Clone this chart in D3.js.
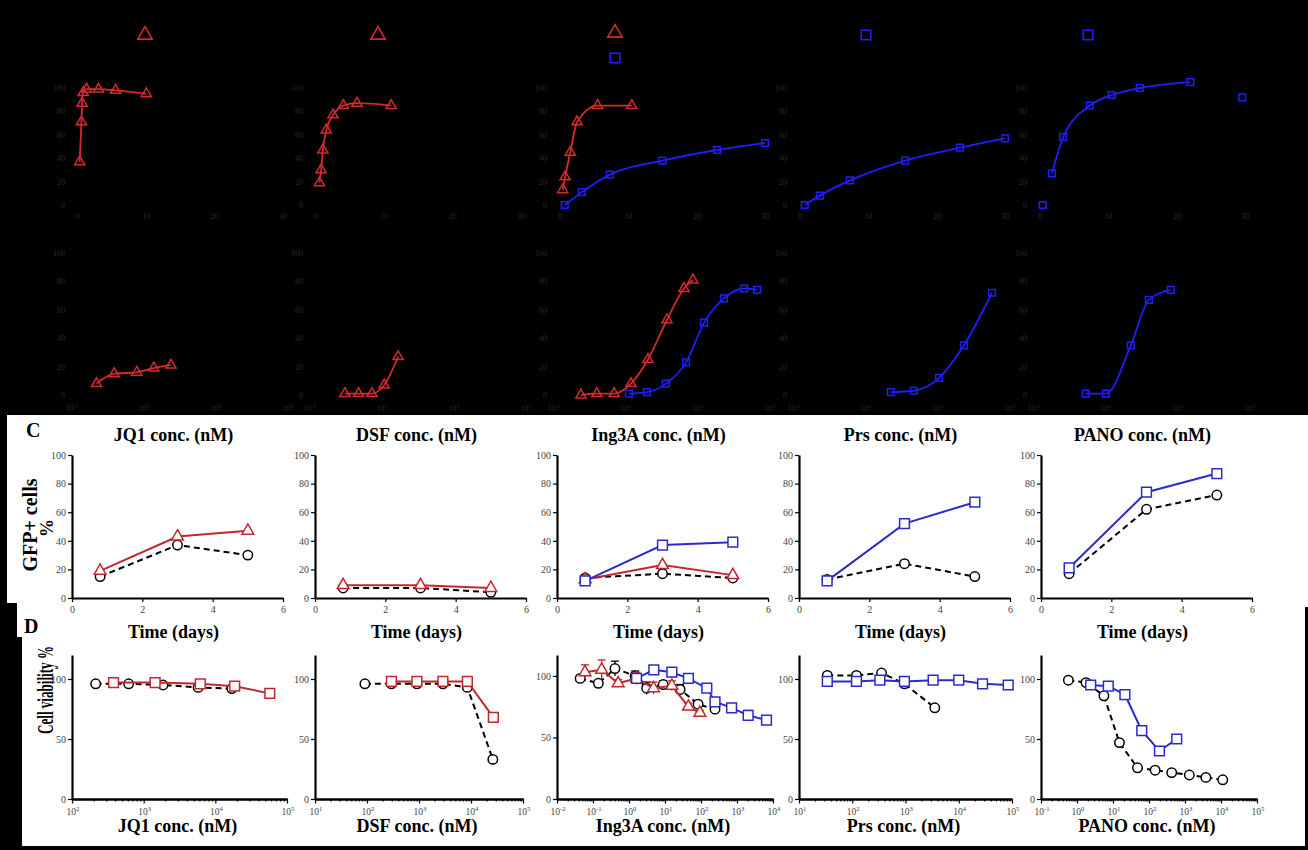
<!DOCTYPE html>
<html>
<head>
<meta charset="utf-8">
<script src="https://cdn.jsdelivr.net/npm/d3@7"></script>
<style>
  body { margin: 0; background: #fff; }
  svg { display: block; }
  text { font-family: "Liberation Serif", "Times New Roman", serif; }
</style>
</head>
<body>
<div id="fig"></div>
<script>
// ---------------- data ----------------
const drugs = ['JQ1', 'DSF', 'Ing3A', 'Prs', 'PANO'];

// top row (A): GFP+ % vs conc, drawn on black
const aJQ1X = [0.25, 0.5, 0.6, 0.75, 1.25, 3, 5.5, 10];
const aJQ1Y = [37, 71, 87, 96, 99, 99, 98, 95];
const aDSFX = [0.5, 0.75, 1, 1.5, 2.5, 4, 6, 11];
const aDSFY = [19, 30, 47, 64, 77, 85, 87, 85];
const aIngRedX = [0.4, 0.75, 1.5, 2.5, 5.5, 10.5];
const aIngRedY = [13, 24, 45, 71, 85, 85];
const aIngBlueX = [0.7, 3.2, 7.3, 15, 23, 30];
const aIngBlueY = [0, 11, 26, 38, 47, 53];
const aPrsX = [0.7, 2.9, 7.3, 15.4, 23.4, 30];
const aPrsY = [0, 8, 21, 38, 49, 57];
const aPanoX = [0.4, 1.75, 3.4, 7.3, 10.5, 14.6, 22, 29.6];
const aPanoY = [0, 27, 58, 85, 94, 100, 105, 92];

// top row (B): dose response, x in log10 units
const bJQ1X = [0.68, 1.17, 1.8, 2.27, 2.75];
const bJQ1Y = [8, 15, 16, 19, 21];
const bDSFX = [0.97, 1.35, 1.72, 2.06, 2.45];
const bDSFY = [1, 1, 1, 7, 27];
const bIngRedX = [0.75, 1.19, 1.67, 2.14, 2.61, 3.14, 3.61, 3.86];
const bIngRedY = [0, 1, 1, 8, 25, 53, 75, 81];
const bIngBlueX = [2.08, 2.58, 3.11, 3.67, 4.17, 4.72, 5.28, 5.64];
const bIngBlueY = [1, 2, 8, 23, 51, 68, 75, 74];
const bPrsX = [2.69, 3.33, 4.03, 4.72, 5.5];
const bPrsY = [2, 3, 12, 35, 72];
const bPanoX = [1.44, 2, 2.69, 3.19, 3.8];
const bPanoY = [1, 1, 35, 67, 74];

// panel C: GFP+ cells % over time
const cDays = [0.8, 3, 5];
const cCtrl = [[15, 37, 30], [7, 7, 4], [14, 17, 14], [13, 24, 15], [17, 62, 72]];
const cRed = [[19, 43, 47], [9, 9, 7], [13, 23, 16], null, null];
const cBlue = [null, null, [12, 37, 39], [12, 52, 67], [21, 74, 87]];
const cBlueErr = [null, null, [0, 0, 0], [0, 0, 0], [0, 2, 3]];

// panel D: cell viability % vs conc (nM)
const dJQ1CtrlX = [214, 617, 1862, 5754, 16980];
const dJQ1CtrlY = [96, 96, 95, 93, 92];
const dJQ1RedX = [380, 1445, 6166, 18620, 57540];
const dJQ1RedY = [97, 97, 96, 94, 88];
const dDSFCtrlX = [91, 295, 912, 2884, 8511, 26300];
const dDSFCtrlY = [96, 96, 96, 96, 93, 33];
const dDSFRedX = [295, 912, 2884, 8511, 26900];
const dDSFRedY = [98, 98, 98, 98, 68];
const dIngCtrlX = [0.044, 0.141, 0.407, 1.48, 3.09, 8.9, 26.3, 83, 245];
const dIngCtrlY = [98, 94, 106, 100, 90, 93, 89, 77, 73];
const dIngCtrlErr = [2, 2, 6, 4, 5, 3, 4, 3, 2];
const dIngRedX = [0.06, 0.174, 0.5, 1.62, 4.8, 15.5, 44.7, 93];
const dIngRedY = [103, 105, 94, 98, 90, 92, 75, 70];
const dIngRedErr = [6, 8, 3, 5, 5, 4, 3, 2];
const dIngBlueX = [1.62, 4.9, 15.5, 44.7, 145, 245, 708, 2040, 6600];
const dIngBlueY = [98, 105, 103, 98, 90, 79, 74, 68, 64];
const dIngBlueErr = [2, 2, 2, 2, 2, 3, 3, 4, 3];
const dPrsCtrlX = [34, 120, 355, 955, 3550];
const dPrsCtrlY = [103, 103, 105, 96, 76];
const dPrsBlueX = [34, 120, 330, 955, 3300, 10000, 28000, 85000];
const dPrsBlueY = [98, 98, 99, 98, 99, 99, 96, 95];
const dPanoCtrlX = [0.575, 1.78, 5.6, 15.1, 47.9, 148, 427, 1318, 3800, 11200];
const dPanoCtrlY = [99, 97, 86, 47, 26, 24, 22, 20, 18, 16];
const dPanoBlueX = [2.4, 7.4, 21.4, 63, 195, 589];
const dPanoBlueY = [95, 94, 87, 57, 40, 50];

// ---------------- layout ----------------
const W = 1308, H = 850;
const RED = '#c0282e', BLUE = '#2b2bcc';
const RED_T = '#d32b2b', BLUE_T = '#1e1eff';
const TICK_GREY = '#444';

const svg = d3.select('#fig').append('svg').attr('width', W).attr('height', H);
svg.append('rect').attr('width', W).attr('height', H).attr('fill', '#fff');
svg.append('rect').attr('width', W).attr('height', 415).attr('fill', '#000');
// black borders round the lower panels
svg.append('rect').attr('x', 0).attr('y', 415).attr('width', 7).attr('height', 435).attr('fill', '#000');
svg.append('rect').attr('x', 0).attr('y', 603).attr('width', 17).attr('height', 247).attr('fill', '#000');
svg.append('rect').attr('x', 0).attr('y', 637).attr('width', 22).attr('height', 213).attr('fill', '#000');
svg.append('rect').attr('x', 0).attr('y', 846).attr('width', W).attr('height', 4).attr('fill', '#000');
svg.append('rect').attr('x', 1305).attr('y', 607).attr('width', 3).attr('height', 243).attr('fill', '#000');

function symbolPath(type, size) {
  const s = type === 'tri' ? d3.symbolTriangle : type === 'sq' ? d3.symbolSquare : d3.symbolCircle;
  return d3.symbol(s, size)();
}

// a series: line + open markers (+ optional error bars)
function series(g, xs, ys, x, y, opt) {
  const pts = xs.map((v, i) => [x(v), y(ys[i]), opt.err ? opt.err[i] : 0, ys[i]]);
  if (opt.err) {
    pts.forEach(p => {
      if (!p[2]) return;
      const y1 = y(p[3] + p[2]), y2 = y(p[3] - p[2]);
      g.append('line').attr('x1', p[0]).attr('x2', p[0]).attr('y1', y1).attr('y2', y2)
        .attr('stroke', opt.color).attr('stroke-width', 1.3);
      g.append('line').attr('x1', p[0] - 4).attr('x2', p[0] + 4).attr('y1', y1).attr('y2', y1)
        .attr('stroke', opt.color).attr('stroke-width', 1.3);
    });
  }
  const line = d3.line().curve(opt.curve || d3.curveLinear);
  const linePts = opt.fit ? pts.slice(opt.fit[0], opt.fit[1]) : pts;
  g.append('path').attr('d', line(linePts.map(p => [p[0], p[1]])))
    .attr('fill', 'none').attr('stroke', opt.color).attr('stroke-width', opt.lw || 2)
    .attr('stroke-dasharray', opt.dash || null);
  g.selectAll(null).data(pts).enter().append('path')
    .attr('d', symbolPath(opt.marker, opt.size || 70))
    .attr('transform', p => `translate(${p[0]},${p[1]})`)
    .attr('fill', opt.fill || '#fff').attr('stroke', opt.color).attr('stroke-width', 1.5);
}

function styleAxis(sel, size) {
  sel.select('.domain').attr('stroke', '#000').attr('stroke-width', 2.2);
  sel.selectAll('.tick line').attr('stroke', '#000').attr('stroke-width', 1.2);
  sel.selectAll('.tick text').attr('fill', TICK_GREY).attr('font-size', size || 10)
    .attr('font-family', '"Liberation Serif", serif');
}

function supLabel(g, x, y, exp, size, color) {
  const t = g.append('text').attr('x', x).attr('y', y).attr('text-anchor', 'middle')
    .attr('font-size', size).attr('fill', color || TICK_GREY);
  t.append('tspan').text('10');
  t.append('tspan').attr('dy', -size * 0.4).attr('font-size', size * 0.7).text(exp);
}

function boldLabel(x, y, txt, size) {
  svg.append('text').attr('x', x).attr('y', y).attr('text-anchor', 'middle')
    .attr('font-size', size || 18).attr('font-weight', 'bold').attr('fill', '#000').text(txt);
}

// ---------------- top rows (black background) ----------------
const topX0 = [78, 316, 560, 800, 1040];
const topW = 205;
const legendX = [145, 378, 615, 866, 1088];
const aSeries = [
  [[aJQ1X, aJQ1Y, 'tri', RED_T]],
  [[aDSFX, aDSFY, 'tri', RED_T]],
  [[aIngRedX, aIngRedY, 'tri', RED_T], [aIngBlueX, aIngBlueY, 'sq', BLUE_T]],
  [[aPrsX, aPrsY, 'sq', BLUE_T]],
  [[aPanoX, aPanoY, 'sq', BLUE_T]]
];
const bSeries = [
  [[bJQ1X, bJQ1Y, 'tri', RED_T]],
  [[bDSFX, bDSFY, 'tri', RED_T]],
  [[bIngRedX, bIngRedY, 'tri', RED_T], [bIngBlueX, bIngBlueY, 'sq', BLUE_T]],
  [[bPrsX, bPrsY, 'sq', BLUE_T]],
  [[bPanoX, bPanoY, 'sq', BLUE_T]]
];
const DIM = '#2c2c2c';

drugs.forEach((d, i) => {
  const g = svg.append('g');
  const x0 = topX0[i];
  // row A
  const ax = d3.scaleLinear().domain([0, 30]).range([x0, x0 + topW]);
  const ay = d3.scaleLinear().domain([0, 100]).range([205, 88]);
  [0, 20, 40, 60, 80, 100].forEach(v => {
    g.append('text').attr('x', x0 - 13).attr('y', ay(v) + 3).attr('text-anchor', 'end')
      .attr('font-size', 8).attr('fill', DIM).text(v);
  });
  [0, 10, 20, 30].forEach(v => {
    g.append('text').attr('x', ax(v)).attr('y', 219).attr('text-anchor', 'middle')
      .attr('font-size', 8).attr('fill', DIM).text(v);
  });
  aSeries[i].forEach(s => {
    series(g, s[0], s[1], ax, ay, { marker: s[2], color: s[3], fill: 'none', size: 45,
      curve: d3.curveMonotoneX, lw: 1.8, fit: i === 4 ? [1, 7] : null });
  });
  // legend symbols of row A
  aSeries[i].forEach(s => {
    const ly = (i === 2 && s[2] === 'sq') ? 58 : (i === 2 ? 33 : 35);
    g.append('path').attr('d', symbolPath(s[2], 90))
      .attr('transform', `translate(${legendX[i]},${ly})`)
      .attr('fill', 'none').attr('stroke', s[3]).attr('stroke-width', 1.6);
  });

  // row B
  const bx = d3.scaleLinear().domain([0, 6]).range([x0 - 6, x0 - 6 + 216]);
  const by = d3.scaleLinear().domain([0, 100]).range([395, 253]);
  [0, 20, 40, 60, 80, 100].forEach(v => {
    g.append('text').attr('x', x0 - 13).attr('y', by(v) + 3).attr('text-anchor', 'end')
      .attr('font-size', 8).attr('fill', DIM).text(v);
  });
  [0, 2, 4, 6].forEach(v => supLabel(g, bx(v), 411, String(v - 1), 8, DIM));
  bSeries[i].forEach(s => {
    series(g, s[0], s[1], bx, by, { marker: s[2], color: s[3], fill: 'none', size: 45,
      curve: d3.curveMonotoneX, lw: 1.8 });
  });
});

// ---------------- panel C ----------------
const cX0 = [72, 315, 557, 799, 1041];
const cW = 211;
drugs.forEach((d, i) => {
  const g = svg.append('g');
  const x = d3.scaleLinear().domain([0, 6]).range([cX0[i], cX0[i] + cW]);
  const y = d3.scaleLinear().domain([0, 100]).range([598, 455]);
  g.append('g').attr('transform', 'translate(0,598)')
    .call(d3.axisBottom(x).tickValues([0, 2, 4, 6]).tickFormat(d3.format('d'))
      .tickSize(4).tickSizeOuter(0).tickPadding(4))
    .call(s => styleAxis(s));
  g.append('g').attr('transform', `translate(${cX0[i]},0)`)
    .call(d3.axisLeft(y).tickValues([0, 20, 40, 60, 80, 100]).tickFormat(d3.format('d'))
      .tickSize(4).tickSizeOuter(0).tickPadding(2))
    .call(s => styleAxis(s));
  series(g, cDays, cCtrl[i], x, y, { marker: 'circ', color: '#000', dash: '6,4', size: 70 });
  if (cRed[i]) series(g, cDays, cRed[i], x, y, { marker: 'tri', color: RED, size: 60 });
  if (cBlue[i]) series(g, cDays, cBlue[i], x, y, { marker: 'sq', color: BLUE, size: 95, err: cBlueErr[i] });
  boldLabel(cX0[i] + cW / 2 - 4, 441, d + ' conc. (nM)', 18);
  boldLabel(cX0[i] + cW / 2 - 4, 638, 'Time (days)', 18);
});
svg.append('text').attr('x', 26).attr('y', 437).attr('font-family', '"Liberation Sans", Arial, sans-serif')
  .attr('font-weight', 'bold').attr('font-size', 20).text('C');
svg.append('text').attr('transform', 'translate(37,525) rotate(-90)').attr('text-anchor', 'middle')
  .attr('font-weight', 'bold').attr('font-size', 20).text('GFP+ cells');
svg.append('text').attr('transform', 'translate(53,528) rotate(-90)').attr('text-anchor', 'middle')
  .attr('font-weight', 'bold').attr('font-size', 18).text('%');

// ---------------- panel D ----------------
const dDomains = [[1e2, 1e5], [1e1, 1e5], [1e-2, 1e4], [1e1, 1e5], [1e-1, 1e5]];
const dW = [215, 208, 216, 213, 216];
const dYMax = [120, 120, 117, 120, 120];
const dData = [
  [[dJQ1CtrlX, dJQ1CtrlY, 'circ', '#000', null], [dJQ1RedX, dJQ1RedY, 'sq', RED, null]],
  [[dDSFCtrlX, dDSFCtrlY, 'circ', '#000', null], [dDSFRedX, dDSFRedY, 'sq', RED, null]],
  [[dIngCtrlX, dIngCtrlY, 'circ', '#000', dIngCtrlErr], [dIngRedX, dIngRedY, 'tri', RED, dIngRedErr],
   [dIngBlueX, dIngBlueY, 'sq', BLUE, dIngBlueErr]],
  [[dPrsCtrlX, dPrsCtrlY, 'circ', '#000', null], [dPrsBlueX, dPrsBlueY, 'sq', BLUE, null]],
  [[dPanoCtrlX, dPanoCtrlY, 'circ', '#000', null], [dPanoBlueX, dPanoBlueY, 'sq', BLUE, null]]
];
drugs.forEach((d, i) => {
  const g = svg.append('g');
  const x0 = cX0[i];
  const x = d3.scaleLog().domain(dDomains[i]).range([x0, x0 + dW[i]]);
  const y = d3.scaleLinear().domain([0, dYMax[i]]).range([799, 655]);
  const lo = Math.round(Math.log10(dDomains[i][0])), hi = Math.round(Math.log10(dDomains[i][1]));
  const majors = d3.range(lo, hi + 1).map(e => Math.pow(10, e));
  const minors = [];
  d3.range(lo, hi).forEach(e => d3.range(2, 10).forEach(m => minors.push(m * Math.pow(10, e))));
  g.append('g').attr('transform', 'translate(0,799)')
    .call(d3.axisBottom(x).tickValues(minors).tickSize(2.5).tickSizeOuter(0).tickFormat(''))
    .call(s => styleAxis(s));
  g.append('g').attr('transform', 'translate(0,799)')
    .call(d3.axisBottom(x).tickValues(majors).tickSize(4.5).tickSizeOuter(0).tickFormat(''))
    .call(s => styleAxis(s));
  majors.forEach(v => supLabel(g, x(v) + 1, 815, String(Math.round(Math.log10(v))), 9.5));
  g.append('g').attr('transform', `translate(${x0},0)`)
    .call(d3.axisLeft(y).tickValues([0, 50, 100]).tickSize(4).tickSizeOuter(0).tickPadding(2))
    .call(s => styleAxis(s));
  dData[i].forEach(s => {
    const dashed = s[3] === '#000';
    series(g, s[0], s[1], x, y, { marker: s[2], color: s[3], dash: dashed ? '6,4' : null,
      size: s[2] === 'sq' ? 95 : s[2] === 'tri' ? 60 : 70, err: s[4] });
  });
  boldLabel(x0 + dW[i] / 2 - 2, 832, d + ' conc. (nM)', 18);
});
svg.append('text').attr('x', 24).attr('y', 633).attr('font-family', '"Liberation Sans", Arial, sans-serif')
  .attr('font-weight', 'bold').attr('font-size', 20).text('D');
svg.append('text').attr('transform', 'translate(53,690) rotate(-90)').attr('text-anchor', 'middle')
  .attr('font-weight', 'bold').attr('font-size', 23)
  .attr('textLength', 88).attr('lengthAdjust', 'spacingAndGlyphs').text('Cell viability %');
</script>
</body>
</html>
